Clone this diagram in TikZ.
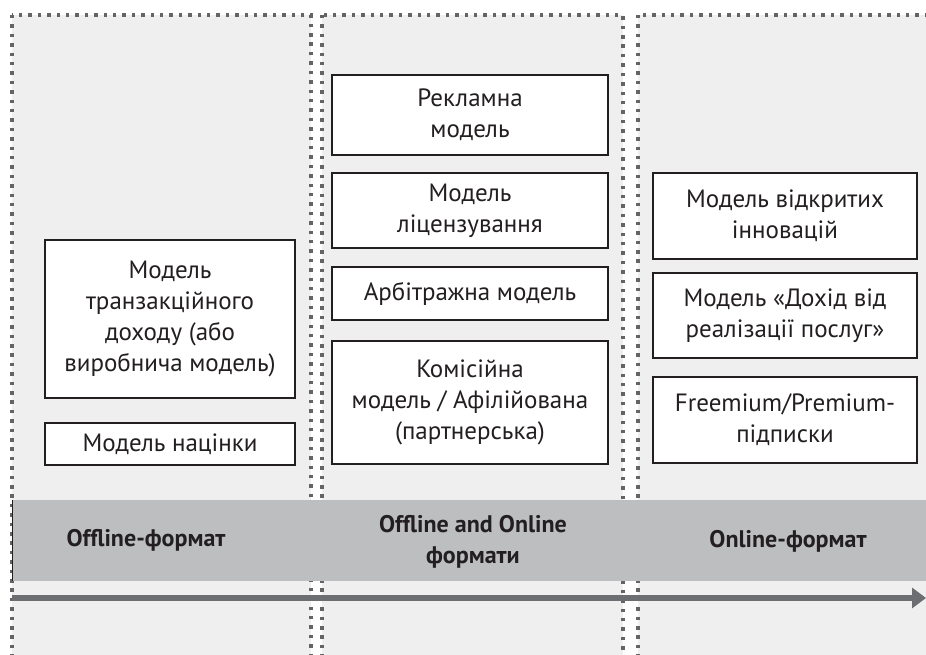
\documentclass[tikz,border=0pt]{standalone}
\usepackage{fontspec}
\setmainfont{PT Sans}
\usepackage{xcolor}
\usetikzlibrary{arrows.meta}
\definecolor{panelGray}{RGB}{239,239,239}
\definecolor{dotGray}{RGB}{100,100,102}
\definecolor{bandGray}{RGB}{188,190,192}
\definecolor{arrowGray}{RGB}{109,110,113}
\definecolor{inkDark}{RGB}{35,31,32}

\begin{document}
\begin{tikzpicture}[x=1pt,y=-1pt,
    panel/.style={fill=panelGray, draw=dotGray, line width=3.5pt, dash pattern=on 3.5pt off 5.9pt},
    model/.style={rectangle, draw=inkDark, line width=2pt, fill=white, text=inkDark, align=center,
                  inner sep=0pt, font=\fontsize{25}{31}\selectfont},
    format/.style={text=inkDark, align=center, font=\bfseries\fontsize{24}{31}\selectfont}]
                    \clip (0,0) rectangle (926,655);
                    \fill[white] (0,0) rectangle (926,655);

                    % Panels
                    \foreach \l/\r in {12/311, 322/623, 638/950} {
                        \draw[panel] (\l,15) rectangle (\r,680);
                    }

                    % Offline
                    \node[model, minimum width=250pt, minimum height=158pt] (trans) at (170,319) {Модель\\транзакційного\\доходу (або\\виробнича модель)};
                    \node[model, minimum width=250pt, minimum height=42pt] (markup) at (170,444) {Модель націнки};

                    % Offline and online
                    \node[model, minimum width=276pt, minimum height=80pt] (ads) at (470,115) {Рекламна\\модель};
                    \node[model, minimum width=276pt, minimum height=75pt] (licence) at (470,210.5) {Модель\\ліцензування};
                    \node[model, minimum width=276pt, minimum height=53pt] (arbitrage) at (470,293.5) {Арбітражна модель};
                    \node[model, minimum width=276pt, minimum height=123pt] (commission) at (470,402.5) {Комісійна\\модель / Афілійована\\(партнерська)};

                    % Online
                    \node[model, minimum width=264pt, minimum height=86pt] (openinno) at (785,216) {Модель відкритих\\інновацій};
                    \node[model, minimum width=264pt, minimum height=85pt] (services) at (785,315.5) {Модель «Дохід від\\реалізації послуг»};
                    \node[model, minimum width=264pt, minimum height=86pt] (freemium) at (785,420) {Freemium/Premium-\\підписки};

                    % Band
                    \fill[bandGray] (12,500) rectangle (926,581);
                    \draw[inkDark, line width=0.6pt] (12,500) -- (12,581);
                    \node[format] (offline) at (146,540) {Offline-формат};
                    \node[format] (both) at (473,542) {Offline and Online\\формати};
                    \node[format] (online) at (788,541) {Online-формат};

                    % Arrow
                    \coordinate (tstart) at (12,598);
                    \coordinate (tend) at (926,598);
                    \draw[-{Triangle[length=14pt,width=20pt]}, line width=6.5pt, arrowGray] (tstart) -- (tend);
                \end{tikzpicture}
\end{document}
